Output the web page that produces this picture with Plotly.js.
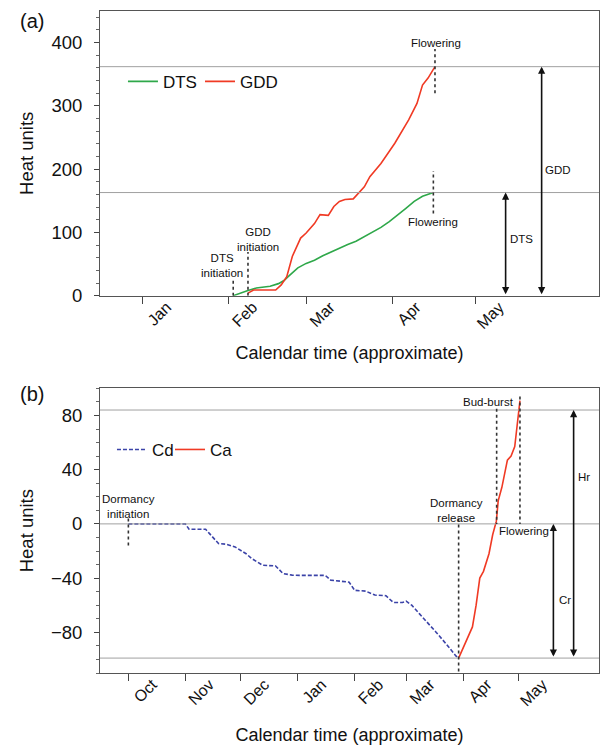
<!DOCTYPE html>
<html>
<head>
<meta charset="utf-8">
<script src="https://cdn.plot.ly/plotly-3.0.1.min.js"></script>
<style>html,body{margin:0;padding:0;background:#fff;}#chart{width:603px;height:745px;}</style>
</head>
<body>
<div id="chart"></div>
<script>
// ---------- Panel (a) data ----------
const dtsDates = ['2001-02-02 16:00','2001-02-05','2001-02-08','2001-02-11','2001-02-16','2001-02-19','2001-02-21','2001-02-23','2001-02-26','2001-03-01','2001-03-04','2001-03-07','2001-03-10','2001-03-13','2001-03-16','2001-03-19','2001-03-22','2001-03-25','2001-03-28','2001-03-31','2001-04-03','2001-04-06','2001-04-09','2001-04-12','2001-04-15 22:00'];
const dtsValues = [0,3,8,12,15,19,24,32,44,51,56,63,69,76,81,86,93,100,108,117,127,138,149,157,163];
const gddDates = ['2001-02-08','2001-02-10','2001-02-18','2001-02-20','2001-02-22','2001-02-24','2001-02-27','2001-03-01','2001-03-04','2001-03-06','2001-03-09','2001-03-11','2001-03-13','2001-03-15','2001-03-18','2001-03-20','2001-03-22','2001-03-24','2001-03-28','2001-04-02','2001-04-07','2001-04-10','2001-04-12','2001-04-14','2001-04-16 12:00'];
const gddValues = [4,9,9,17,30,62,91,99,114,128,127,141,149,152,153,162,172,188,209,241,278,304,333,344,362];
const topMonthTicks = ['2001-01-01','2001-02-01','2001-03-01','2001-04-01','2001-05-01'];
const topMonthLabels = ['Jan','Feb','Mar','Apr','May'];
const dtsInitDate = '2001-02-02 16:00';
const gddInitDate = '2001-02-08';
const dtsFlowerDate = '2001-04-15 22:00';
const gddFlowerDate = '2001-04-16 12:00';

// ---------- Panel (b) data ----------
const cdDates = ['2000-10-01','2000-11-01','2000-11-03','2000-11-12','2000-11-14','2000-11-19','2000-11-23','2000-11-28','2000-12-04','2000-12-07','2000-12-13','2000-12-20','2000-12-24','2000-12-29','2001-01-02','2001-01-16','2001-01-19','2001-01-29','2001-02-01','2001-02-07','2001-02-12','2001-02-18','2001-02-22','2001-02-27','2001-03-01','2001-03-04','2001-03-08','2001-03-14','2001-03-17','2001-03-23','2001-03-28','2001-03-29 12:00'];
const cdValues = [0,0,-4,-4,-7,-14.5,-15,-17,-22,-25.5,-30.5,-31,-36.6,-37.8,-38,-38,-41.5,-43,-49,-49.6,-52.5,-53,-58,-58,-57,-60,-66,-74.6,-79.5,-89,-97.4,-99];
const caDates = ['2001-03-29 12:00','2001-04-02','2001-04-06','2001-04-08','2001-04-10','2001-04-12','2001-04-15','2001-04-17','2001-04-19','2001-04-20','2001-04-22','2001-04-25','2001-04-27','2001-04-29','2001-04-30 12:00','2001-05-01 20:00'];
const caValues = [-99,-88,-76,-60,-40,-35,-22,-8,2,17,27,47,50,57,74,91];
const bottomMonthTicks = ['2000-10-01','2000-11-01','2000-12-01','2001-01-01','2001-02-01','2001-03-01','2001-04-01','2001-05-01'];
const bottomMonthLabels = ['Oct','Nov','Dec','Jan','Feb','Mar','Apr','May'];
const dormInitDate = '2000-10-01';
const dormReleaseDate = '2001-03-29 12:00';
const budBurstDate = '2001-04-19 04:00';
const flowerDateB = '2001-05-01 20:00';
const hrLevel = 84;
const crLevel = -99;

const FONT = 'Liberation Sans, Arial, Helvetica, sans-serif';
const dtsTotal = dtsValues[dtsValues.length-1];
const gddTotal = gddValues[gddValues.length-1];

const traces = [
  {x: dtsDates, y: dtsValues, name: 'DTS', type: 'scatter', mode: 'lines', xaxis: 'x', yaxis: 'y', showlegend: true,
   line: {color: '#2fa84a', width: 1.6}, legend: 'legend'},
  {x: gddDates, y: gddValues, name: 'GDD', type: 'scatter', mode: 'lines', xaxis: 'x', yaxis: 'y', showlegend: true,
   line: {color: '#f03a24', width: 1.6}, legend: 'legend2'},
  {x: cdDates, y: cdValues, name: 'Cd', type: 'scatter', mode: 'lines', xaxis: 'x2', yaxis: 'y2', showlegend: true,
   line: {color: '#3b43a8', width: 1.6, dash: '4px,2px'}, legend: 'legend3'},
  {x: caDates, y: caValues, name: 'Ca', type: 'scatter', mode: 'lines', xaxis: 'x2', yaxis: 'y2', showlegend: true,
   line: {color: '#f03a24', width: 1.6}, legend: 'legend4'}
];

const hline = (yref, xref, v) => ({type: 'line', xref: xref + ' domain', yref: yref, x0: 0, x1: 1, y0: v, y1: v,
  line: {color: '#a0a0a0', width: 1}});
const vdot = (xref, yref, x, y0, y1) => ({type: 'line', xref: xref, yref: yref, x0: x, x1: x, y0: y0, y1: y1,
  line: {color: '#333', width: 1.6, dash: 'dot'}});

const shapes = [
  hline('y', 'x', gddTotal), hline('y', 'x', dtsTotal),
  hline('y2', 'x2', hrLevel), hline('y2', 'x2', 0), hline('y2', 'x2', crLevel),
  vdot('x', 'y', dtsInitDate, 0, 28),
  vdot('x', 'y', gddInitDate, 0, 69),
  vdot('x', 'y', gddFlowerDate, 320, 390),
  vdot('x', 'y', dtsFlowerDate, 130, 197),
  vdot('x2', 'y2', dormInitDate, 4, -16),
  vdot('x2', 'y2', dormReleaseDate, 4, -110),
  vdot('x2', 'y2', budBurstDate, 85, 0),
  vdot('x2', 'y2', flowerDateB, 94, 0)
];

const txt = (xref, yref, x, y, text, extra) => Object.assign({xref: xref, yref: yref, x: x, y: y, text: text,
  showarrow: false, font: {family: FONT, size: 11.5, color: '#111'}, xanchor: 'center', yanchor: 'middle'}, extra || {});
const arrow = (xref, yref, x, y0, y1) => ({xref: xref, yref: yref, axref: xref, ayref: yref, x: x, y: y1, ax: x, ay: y0,
  text: '', showarrow: true, arrowside: 'end+start', arrowhead: 2, arrowsize: 0.9, arrowwidth: 1.6, arrowcolor: '#111',
  standoff: 0, startstandoff: 0});

const annotations = [
  {xref: 'paper', yref: 'paper', x: -0.165, y: 1.004, text: '(a)', showarrow: false, font: {family: FONT, size: 20, color: '#111'}},
  {xref: 'paper', yref: 'paper', x: -0.165, y: 0.422, text: '(b)', showarrow: false, font: {family: FONT, size: 20, color: '#111'}},
  txt('x', 'y', '2001-01-29 14:00', 47, 'DTS<br>initiation'),
  txt('x', 'y', '2001-02-11 14:00', 88, 'GDD<br>initiation'),
  txt('x', 'y', '2001-04-16 19:00', 400, 'Flowering'),
  txt('x', 'y', '2001-04-15 19:00', 117, 'Flowering'),
  arrow('x', 'y', '2001-05-12', 0, dtsTotal),
  arrow('x', 'y', '2001-05-25', 0, gddTotal),
  txt('x', 'y', '2001-05-12', 89, 'DTS', {xanchor: 'left', xshift: 2}),
  txt('x', 'y', '2001-05-25', 199, 'GDD', {xanchor: 'left', xshift: 1}),
  txt('x2', 'y2', '2000-10-01', 12.5, 'Dormancy<br>initiation'),
  txt('x2', 'y2', '2001-03-28 12:00', 10, 'Dormancy<br>release'),
  txt('x2', 'y2', '2001-04-14 14:00', 90, 'Bud-burst'),
  txt('x2', 'y2', '2001-05-04', -5.4, 'Flowering'),
  arrow('x2', 'y2', '2001-05-20', crLevel, 0),
  arrow('x2', 'y2', '2001-05-31', crLevel, hrLevel),
  txt('x2', 'y2', '2001-05-20', -56, 'Cr', {xanchor: 'left', xshift: 4}),
  txt('x2', 'y2', '2001-05-31', 34.6, 'Hr', {xanchor: 'left', xshift: 2})
];

const xBase = {type: 'date', showgrid: false, zeroline: false, showline: true, mirror: true, linecolor: '#555', linewidth: 1,
  ticks: 'outside', ticklen: 7, tickwidth: 1, tickcolor: '#444', tickangle: -45, ticklabelshift: 24, ticklabelstandoff: -12,
  tickfont: {family: FONT, size: 16, color: '#111'}};
const xTitle = (s) => ({text: 'Calendar time (approximate)', font: {family: FONT, size: 18, color: '#111'}, standoff: s});
const yBase = {showgrid: false, zeroline: false, showline: true, mirror: true, linecolor: '#555', linewidth: 1,
  ticks: 'outside', ticklen: 5, tickwidth: 1, tickcolor: '#444', ticklabelstandoff: 8,
  tickfont: {family: FONT, size: 18.5, color: '#111'},
  title: {text: 'Heat units', font: {family: FONT, size: 18.5, color: '#111'}, standoff: 12}};
const legendBase = (x, y) => ({visible: true, orientation: 'h', x: x, y: y, xanchor: 'left', yanchor: 'middle', bgcolor: 'rgba(0,0,0,0)',
  font: {family: FONT, size: 17, color: '#111'}});

const layout = {
  width: 603, height: 745,
  margin: {l: 100, r: 4, t: 11, b: 72},
  paper_bgcolor: '#fff', plot_bgcolor: '#fff',
  showlegend: true,
  font: {family: FONT, color: '#111'},
  xaxis: Object.assign({}, xBase, {domain: [0, 1], anchor: 'y', range: ['2000-12-16 14:00', '2001-06-14 17:00'],
    tickvals: topMonthTicks, ticktext: topMonthLabels, title: xTitle(15)}),
  yaxis: Object.assign({}, yBase, {domain: [0.570, 1], anchor: 'x', range: [0, 450], tickvals: [0, 100, 200, 300, 400],
    minor: {dtick: 20, ticks: 'outside', ticklen: 3, tickcolor: '#666', showgrid: false}}),
  xaxis2: Object.assign({}, xBase, {domain: [0, 1], anchor: 'y2', range: ['2000-09-15 14:00', '2001-06-13 19:00'],
    tickvals: bottomMonthTicks, ticktext: bottomMonthLabels, title: xTitle(22)}),
  yaxis2: Object.assign({}, yBase, {domain: [0, 0.430], anchor: 'x2', range: [-110, 100], tickvals: [-80, -40, 0, 40, 80],
    minor: {dtick: 10, ticks: 'outside', ticklen: 3, tickcolor: '#666', showgrid: false}}),
  legend: legendBase(0.046, 0.893),
  legend2: legendBase(0.2004, 0.893),
  legend3: legendBase(0.024, 0.337),
  legend4: legendBase(0.1403, 0.337),
  shapes: shapes,
  annotations: annotations
};

Plotly.newPlot('chart', traces, layout, {displayModeBar: false, staticPlot: true});
</script>
</body>
</html>
